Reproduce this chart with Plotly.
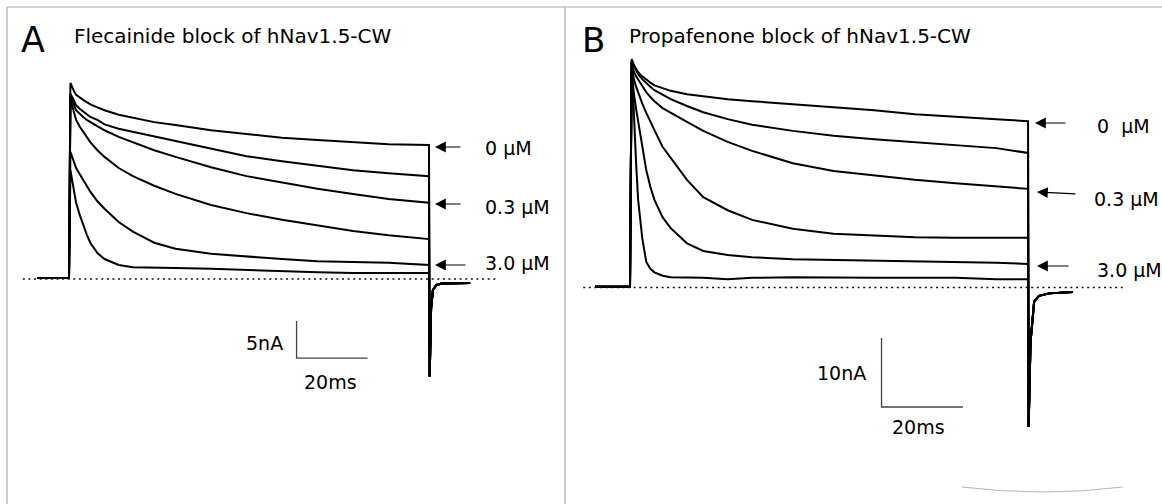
import plotly.graph_objects as go

W, H = 1162, 504
FONT = "DejaVu Sans"

# ---------------- data ----------------
# Panel A: flecainide (time in ms, current in nA, inward current drawn upward)
t_a = [0, 0.4, 0.7, 1, 1.5, 2, 3, 4, 5, 6, 8, 10, 14, 18, 24, 30, 40, 50, 60, 70, 80, 90, 101.4]
hold_t_a = [-9.0, -4.0]
hold_i_a = [0.15, 0.15]
a_0 = [0.15, 26.5, 26.1, 25.8, 25.3, 24.9, 24.5, 24.2, 23.9, 23.6, 23.2, 22.8, 22.2, 21.8, 21.2, 20.8, 20.1, 19.6, 19.1, 18.8, 18.5, 18.2, 18.1]
a_1 = [0.15, 25.0, 24.8, 24.5, 24.0, 23.5, 23.0, 22.6, 22.2, 21.9, 21.5, 20.9, 20.3, 19.9, 19.2, 18.6, 17.6, 16.6, 15.9, 15.3, 14.7, 14.3, 13.9]
a_03 = [0.15, 24.7, 24.4, 24.1, 23.4, 22.8, 22.3, 21.9, 21.5, 21.2, 20.7, 20.1, 19.2, 18.5, 17.4, 16.5, 15.1, 13.9, 13.0, 12.2, 11.5, 10.8, 10.3]
a_1b = [0.15, 24.3, 23.7, 23.1, 22.3, 21.5, 20.6, 19.9, 19.2, 18.5, 17.4, 16.5, 15.0, 13.9, 12.6, 11.5, 10.0, 8.9, 8.0, 7.2, 6.5, 5.9, 5.4]
a_3 = [0.15, 17.2, 16.8, 16.4, 15.7, 15.0, 14.2, 13.4, 12.6, 11.8, 10.5, 9.5, 7.7, 6.4, 4.9, 4.1, 3.4, 3.0, 2.7, 2.4, 2.3, 2.2, 1.9]
a_10 = [0.15, 14.7, 13.9, 13.0, 11.6, 10.3, 8.7, 7.3, 6.0, 4.9, 3.5, 2.7, 1.9, 1.6, 1.5, 1.5, 1.4, 1.2, 1.1, 0.9, 0.8, 0.8, 0.8]
tail_t_a = [101.6, 102.0, 102.5, 103.5, 105.0, 113.0]
tail_i_a = [-13.2, -4.0, -1.5, -0.8, -0.6, -0.55]
base_t_a = [-13.0, 121.1]

# Panel B: propafenone
t_b = [0, 0.4, 0.7, 1, 1.5, 2, 3, 4, 5, 6, 8, 10, 14, 18, 24, 30, 40, 50, 60, 70, 80, 90, 97.8]
hold_t_b = [-8.6, -4.0]
hold_i_b = [0.1, 0.1]
b_0 = [0.1, 33.1, 32.6, 32.2, 31.7, 31.2, 30.6, 30.1, 29.7, 29.3, 28.9, 28.5, 28.0, 27.7, 27.3, 27.0, 26.6, 26.2, 25.7, 25.1, 24.7, 24.4, 24.1]
b_1 = [0.1, 32.8, 32.4, 32.0, 31.4, 30.9, 30.2, 29.6, 29.1, 28.6, 27.9, 27.3, 26.3, 25.4, 24.4, 23.6, 22.7, 22.0, 21.5, 21.1, 20.7, 20.2, 19.5]
b_03 = [0.1, 32.5, 31.8, 31.2, 30.6, 30.1, 29.2, 28.3, 27.6, 27.0, 26.0, 25.3, 24.0, 22.7, 21.1, 19.8, 18.0, 16.9, 16.2, 15.6, 15.1, 14.7, 14.3]
b_1b = [0.1, 32.0, 31.0, 30.1, 29.1, 28.2, 26.7, 25.3, 24.0, 22.8, 20.4, 18.8, 15.6, 13.1, 11.2, 9.8, 8.5, 7.8, 7.5, 7.3, 7.2, 7.2, 7.2]
b_3 = [0.1, 31.3, 29.5, 27.9, 25.9, 24.0, 20.4, 17.0, 14.6, 12.7, 10.2, 8.6, 6.4, 5.3, 4.7, 4.4, 4.1, 4.0, 3.8, 3.7, 3.6, 3.6, 3.4]
b_10 = [0.1, 32.7, 28.0, 24.3, 18.0, 12.7, 7.2, 3.7, 2.7, 2.2, 1.7, 1.5, 1.5, 1.4, 1.2, 1.4, 1.5, 1.4, 1.4, 1.4, 1.4, 1.2, 1.2]
tail_t_b = [97.95, 98.4, 99.3, 100.5, 103.0, 108.8]
tail_i_b = [-20.2, -8.0, -2.0, -1.2, -0.85, -0.65]
base_t_b = [-11.5, 121.1]

# scale bars: origin (time, current) and lengths
scale_a = dict(t0=64.1, i0=-10.68, dt=20, di=5)
scale_b = dict(t0=61.8, i0=-17.32, dt=20, di=10)

conc_labels_a = ["0 \u03bcM", "0.3 \u03bcM", "3.0 \u03bcM"]
conc_labels_b = ["0  \u03bcM", "0.3 \u03bcM", "3.0 \u03bcM"]

# --------------- figure ---------------
fig = go.Figure()

def add_trace_set(times, hold_t, hold_i, series, tail_t, tail_i, xa, ya):
    for s in series:
        x = hold_t + times + tail_t
        y = hold_i + s + tail_i
        fig.add_trace(go.Scatter(x=x, y=y, mode="lines", xaxis=xa, yaxis=ya,
                                 line=dict(color="black", width=2),
                                 hoverinfo="skip", showlegend=False))

add_trace_set(t_a, hold_t_a, hold_i_a, [a_0, a_1, a_03, a_1b, a_3, a_10], tail_t_a, tail_i_a, "x", "y")
add_trace_set(t_b, hold_t_b, hold_i_b, [b_0, b_1, b_03, b_1b, b_3, b_10], tail_t_b, tail_i_b, "x2", "y2")

for bt, xa, ya in [(base_t_a, "x", "y"), (base_t_b, "x2", "y2")]:
    fig.add_trace(go.Scatter(x=bt, y=[0, 0], mode="lines", xaxis=xa, yaxis=ya,
                             line=dict(color="#111111", width=1.3, dash="2px,3.6px"),
                             hoverinfo="skip", showlegend=False))

for sc, xa, ya in [(scale_a, "x", "y"), (scale_b, "x2", "y2")]:
    fig.add_trace(go.Scatter(
        x=[sc["t0"], sc["t0"], sc["t0"] + sc["dt"]],
        y=[sc["i0"] + sc["di"], sc["i0"], sc["i0"]],
        mode="lines", xaxis=xa, yaxis=ya,
        line=dict(color="#444444", width=1.3),
        hoverinfo="skip", showlegend=False))

# pixel -> paper helpers (layout only)
def px(x):
    return x / W

def py(y):
    return 1 - y / H

ann = []
def text(x, y, s, size, xanchor="left"):
    ann.append(dict(x=px(x), y=py(y), xref="paper", yref="paper", text=s, showarrow=False,
                    xanchor=xanchor, yanchor="middle",
                    font=dict(family=FONT, size=size, color="black")))

def arrow(xh, yh, xt, yt):
    ann.append(dict(x=px(xh), y=py(yh), xref="paper", yref="paper", text="", showarrow=True,
                    ax=xt - xh, ay=yt - yh, axref="pixel", ayref="pixel",
                    arrowhead=2, arrowsize=1.8, arrowwidth=1.2, arrowcolor="black"))

text(19, 40, "A", 35)
text(72, 36, "Flecainide block of hNav1.5-CW", 20)
text(580, 40, "B", 34)
text(627, 36, "Propafenone block of hNav1.5-CW", 20)

for lab, yy in zip(conc_labels_a, [148, 207, 263]):
    text(483, yy, lab, 19)
for (xh, yh, xt, yt) in [(435, 147, 462, 147), (435, 204, 462, 204), (435, 265, 467, 265)]:
    arrow(xh, yh, xt, yt)

for lab, xx, yy in zip(conc_labels_b, [1095, 1092, 1095], [126, 199, 270]):
    text(xx, yy, lab, 19)
for (xh, yh, xt, yt) in [(1035, 123, 1067, 123), (1037, 192, 1077, 194), (1037, 266, 1070, 266)]:
    arrow(xh, yh, xt, yt)

text(264, 343, "5nA", 19, "center")
text(330, 382, "20ms", 19, "center")
text(841, 373, "10nA", 19, "center")
text(918, 427, "20ms", 19, "center")

frame_col = "#a9a9a9"
shapes = [
    dict(type="line", xref="paper", yref="paper", x0=px(7), x1=px(1162), y0=py(7), y1=py(7),
         line=dict(color=frame_col, width=1.2)),
    dict(type="line", xref="paper", yref="paper", x0=px(7), x1=px(7), y0=py(7), y1=py(504),
         line=dict(color=frame_col, width=1.2)),
    dict(type="line", xref="paper", yref="paper", x0=px(565), x1=px(565), y0=py(7), y1=py(504),
         line=dict(color=frame_col, width=1.2)),
    dict(type="path", xref="paper", yref="paper",
         path=f"M {px(962)},{py(487)} Q {px(1043)},{py(497)} {px(1123)},{py(487)}",
         line=dict(color="#b5b5b5", width=1)),
]

ax_common = dict(visible=False, showgrid=False, zeroline=False, fixedrange=True)
fig.update_layout(
    width=W, height=H, autosize=False,
    margin=dict(l=0, r=0, t=0, b=0),
    paper_bgcolor="white", plot_bgcolor="white",
    xaxis=dict(domain=[0, 1], range=[-19.437, 307.887], anchor="y", **ax_common),
    yaxis=dict(domain=[0, 1], range=[-30.405, 37.703], anchor="x", **ax_common),
    xaxis2=dict(domain=[0, 1], range=[-154.791, 130.713], anchor="y2", overlaying="x", **ax_common),
    yaxis2=dict(domain=[0, 1], range=[-31.377, 41.667], anchor="x2", overlaying="y", **ax_common),
    annotations=ann, shapes=shapes,
    showlegend=False,
)

fig.write_html("out.html", config={"displayModeBar": False},
               post_script="document.body.style.margin='0';")
